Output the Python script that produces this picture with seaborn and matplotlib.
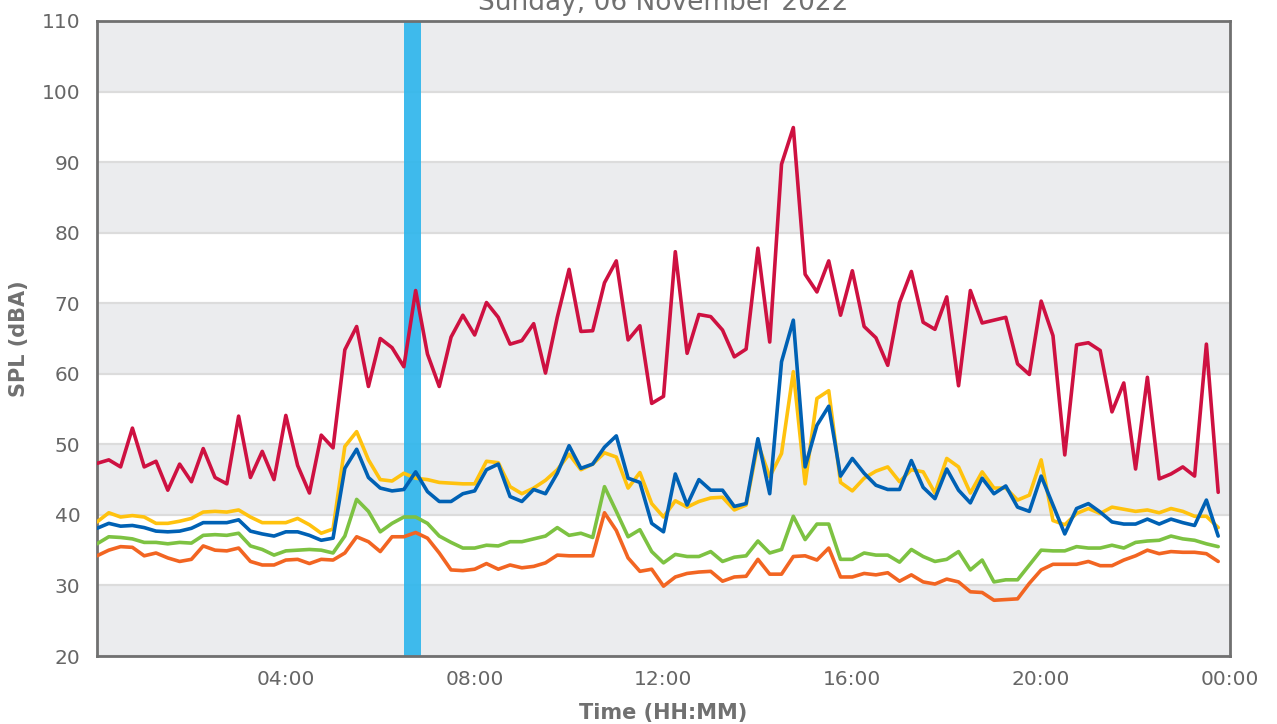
import numpy as np
import pandas as pd
import matplotlib
matplotlib.use("Agg")
import matplotlib.pyplot as plt
import seaborn as sns
from matplotlib.ticker import FixedLocator, FuncFormatter

# 15-minute intervals across the day (minutes after midnight)
minutes = np.arange(0, 24 * 60, 15)

lmax = [47.3, 47.8, 46.8, 52.3, 46.8, 47.6, 43.5, 47.2, 44.7, 49.4, 45.3, 44.4,
        54.0, 45.3, 49.0, 45.0, 54.1, 47.0, 43.1, 51.3, 49.5, 63.4, 66.7, 58.2,
        65.0, 63.7, 61.0, 71.8, 62.8, 58.2, 65.2, 68.3, 65.5, 70.1, 68.0, 64.2,
        64.7, 67.1, 60.1, 68.0, 74.8, 66.0, 66.1, 72.9, 76.0, 64.8, 66.8, 55.8,
        56.8, 77.3, 62.9, 68.4, 68.1, 66.2, 62.4, 63.5, 77.8, 64.5, 89.7, 94.9,
        74.1, 71.6, 76.0, 68.3, 74.6, 66.7, 65.1, 61.2, 70.1, 74.5, 67.3, 66.3,
        70.9, 58.3, 71.8, 67.2, 67.6, 68.0, 61.4, 59.9, 70.3, 65.4, 48.5, 64.1,
        64.4, 63.3, 54.6, 58.7, 46.5, 59.5, 45.1, 45.8, 46.8, 45.5, 64.2, 43.2]

l10 = [39.0, 40.3, 39.7, 39.9, 39.7, 38.8, 38.8, 39.1, 39.5, 40.4, 40.5, 40.4,
       40.7, 39.7, 38.9, 38.9, 38.9, 39.5, 38.6, 37.4, 38.0, 49.7, 51.8, 47.8,
       45.0, 44.8, 45.9, 45.2, 45.0, 44.6, 44.5, 44.4, 44.4, 47.6, 47.4, 44.0,
       43.0, 43.8, 44.9, 46.4, 48.6, 46.4, 47.2, 48.8, 48.2, 43.8, 46.0, 41.6,
       39.7, 42.0, 41.1, 41.9, 42.4, 42.5, 40.7, 41.4, 50.1, 45.4, 48.7, 60.3,
       44.4, 56.5, 57.6, 44.6, 43.4, 45.2, 46.2, 46.8, 44.7, 46.4, 46.1, 43.1,
       48.0, 46.8, 43.1, 46.1, 43.8, 43.8, 42.1, 42.8, 47.8, 39.2, 38.6, 40.2,
       40.9, 40.2, 41.1, 40.8, 40.5, 40.7, 40.3, 40.9, 40.5, 39.8, 39.8, 38.2]

leq = [38.1, 38.8, 38.4, 38.5, 38.2, 37.7, 37.6, 37.7, 38.1, 38.9, 38.9, 38.9,
       39.3, 37.7, 37.3, 37.0, 37.6, 37.6, 37.1, 36.4, 36.7, 46.6, 49.3, 45.3,
       43.8, 43.4, 43.6, 46.1, 43.3, 41.9, 41.9, 43.0, 43.4, 46.4, 47.2, 42.6,
       41.9, 43.6, 43.0, 45.9, 49.8, 46.6, 47.2, 49.6, 51.2, 45.2, 44.6, 38.8,
       37.6, 45.8, 41.4, 45.0, 43.5, 43.5, 41.2, 41.6, 50.8, 43.0, 61.7, 67.6,
       46.8, 52.7, 55.4, 45.5, 48.0, 45.9, 44.2, 43.6, 43.6, 47.7, 43.9, 42.3,
       46.5, 43.5, 41.7, 45.2, 43.0, 44.1, 41.1, 40.5, 45.5, 41.4, 37.3, 40.9,
       41.6, 40.4, 39.0, 38.7, 38.7, 39.4, 38.7, 39.4, 38.9, 38.5, 42.1, 37.0]

l50 = [35.9, 36.9, 36.8, 36.6, 36.1, 36.1, 35.9, 36.1, 36.0, 37.1, 37.2, 37.1,
       37.4, 35.6, 35.1, 34.3, 34.9, 35.0, 35.1, 35.0, 34.6, 37.0, 42.2, 40.5,
       37.6, 38.8, 39.7, 39.7, 38.8, 37.0, 36.1, 35.3, 35.3, 35.7, 35.6, 36.2,
       36.2, 36.6, 37.0, 38.2, 37.1, 37.4, 36.8, 44.0, 40.5, 36.9, 37.9, 34.8,
       33.2, 34.4, 34.1, 34.1, 34.8, 33.4, 34.0, 34.2, 36.3, 34.6, 35.1, 39.8,
       36.5, 38.7, 38.7, 33.7, 33.7, 34.6, 34.3, 34.3, 33.3, 35.1, 34.1, 33.4,
       33.7, 34.8, 32.2, 33.6, 30.5, 30.8, 30.8, 32.9, 35.0, 34.9, 34.9, 35.5,
       35.3, 35.3, 35.7, 35.3, 36.1, 36.3, 36.4, 37.0, 36.6, 36.4, 35.9, 35.5]

l90 = [34.2, 35.0, 35.5, 35.4, 34.2, 34.6, 33.9, 33.4, 33.7, 35.6, 35.0, 34.9,
       35.3, 33.4, 32.9, 32.9, 33.6, 33.7, 33.1, 33.7, 33.6, 34.6, 36.9, 36.2,
       34.8, 36.9, 36.9, 37.5, 36.7, 34.6, 32.2, 32.1, 32.3, 33.1, 32.3, 32.9,
       32.5, 32.7, 33.2, 34.3, 34.2, 34.2, 34.2, 40.3, 37.8, 33.9, 32.0, 32.3,
       29.9, 31.2, 31.7, 31.9, 32.0, 30.6, 31.2, 31.3, 33.7, 31.6, 31.6, 34.1,
       34.2, 33.6, 35.3, 31.2, 31.2, 31.7, 31.5, 31.8, 30.6, 31.5, 30.5, 30.2,
       30.9, 30.5, 29.1, 29.0, 27.9, 28.0, 28.1, 30.3, 32.2, 33.0, 33.0, 33.0,
       33.4, 32.8, 32.8, 33.6, 34.2, 35.0, 34.5, 34.8, 34.7, 34.7, 34.5, 33.4]

series_names = ["L90", "L50", "L10", "LAeq", "LAmax"]
series_values = [l90, l50, l10, leq, lmax]
palette = {"L90": "#F26522", "L50": "#7DC242", "L10": "#FFC20E",
           "LAeq": "#0061B4", "LAmax": "#CE1141"}

x_ticks = [4, 8, 12, 16, 20, 24]
x_tick_labels = ["04:00", "08:00", "12:00", "16:00", "20:00", "00:00"]
y_ticks = [20, 30, 40, 50, 60, 70, 80, 90, 100, 110]

title = "Sunday, 06 November 2022"
event_window = (6.5, 6.86)  # highlighted period, hours

frames = []
for name, vals in zip(series_names, series_values):
    frames.append(pd.DataFrame({"hour": minutes / 60.0, "spl": vals, "metric": name}))
df = pd.concat(frames, ignore_index=True)

sns.set_style("white")
plt.rcParams["font.family"] = ["DejaVu Sans"]

fig = plt.figure(figsize=(12.77, 7.24), dpi=100)
ax = fig.add_axes([97 / 1277, 1 - 656 / 724, (1230 - 97) / 1277, (656 - 21) / 724])

# alternating grey bands behind the data
for lo in range(20, 110, 20):
    ax.axhspan(lo, lo + 10, color="#EBECEE", lw=0, zorder=0)
for yv in y_ticks:
    ax.axhline(yv, color="#DCDCDC", lw=1.6, zorder=0.5)

ax.axvspan(*event_window, color="#2FB6EC", alpha=0.92, lw=0, zorder=1)

sns.lineplot(data=df, x="hour", y="spl", hue="metric", hue_order=series_names,
             palette=palette, linewidth=2.6, legend=False, ax=ax, zorder=3,
             estimator=None)

ax.set_xlim(0, 24)
ax.set_ylim(20, 110)
ax.xaxis.set_major_locator(FixedLocator(x_ticks))
ax.xaxis.set_major_formatter(FuncFormatter(lambda v, p: x_tick_labels[x_ticks.index(int(round(v)))]
                                           if int(round(v)) in x_ticks else ""))
ax.yaxis.set_major_locator(FixedLocator(y_ticks))

ax.tick_params(axis="both", labelsize=14.5, labelcolor="#666666", direction="in")
ax.tick_params(axis="x", pad=10, length=6, width=1.2, color="#707070")
ax.tick_params(axis="y", pad=12, length=7, width=1.5, color="#BDBDBD")

for side in ["left", "right", "top", "bottom"]:
    ax.spines[side].set_visible(True)
    ax.spines[side].set_color("#707070")
    ax.spines[side].set_linewidth(2)

ax.set_xlabel("Time (HH:MM)", fontsize=15, fontweight="bold", color="#707070", labelpad=10)
ax.set_ylabel("SPL (dBA)", fontsize=15, fontweight="bold", color="#707070", labelpad=9)

fig.text((97 + 1230) / 2 / 1277, 1 - 10 / 724, title, ha="center", va="baseline",
         fontsize=19, color="#707070")

fig.savefig("out.png", dpi=100)
